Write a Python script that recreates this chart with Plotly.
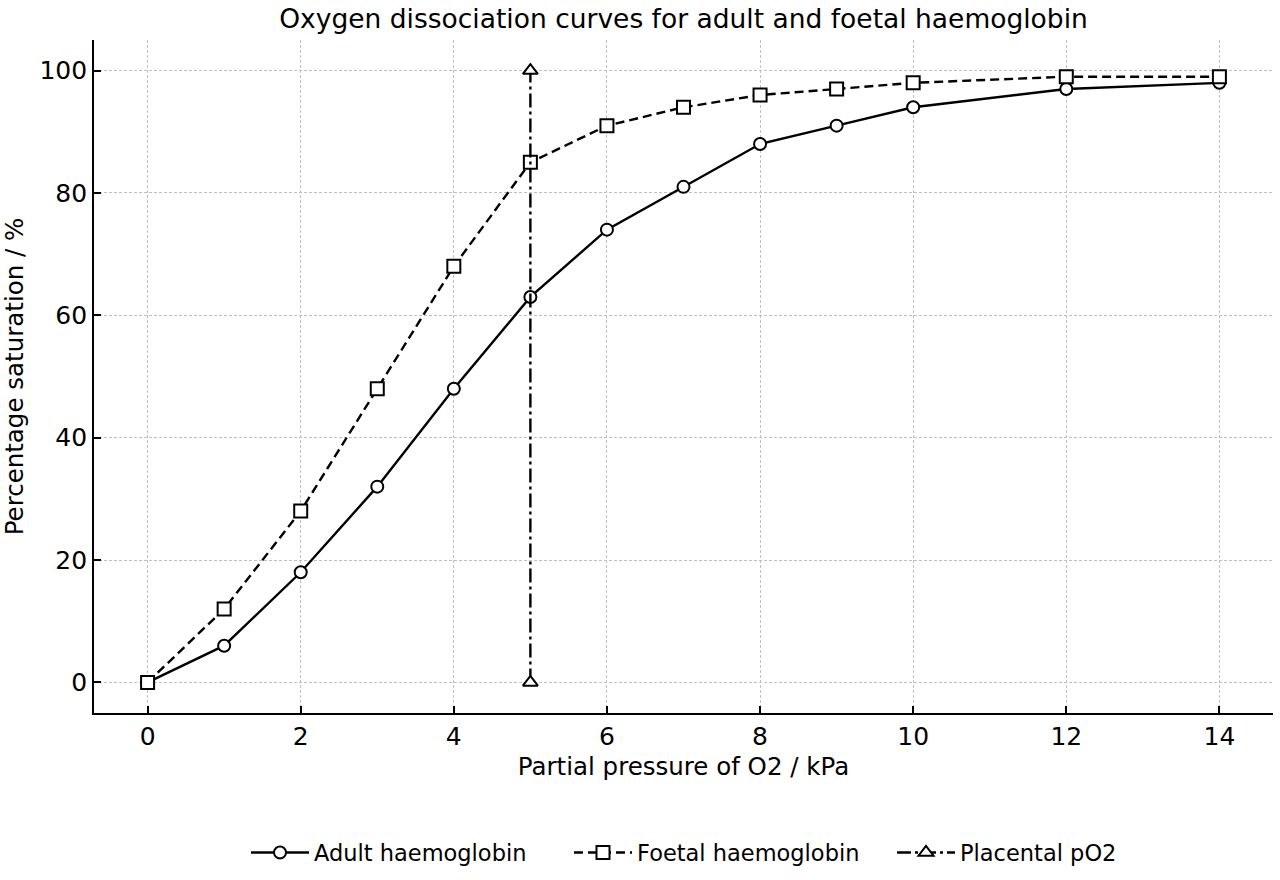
import plotly.graph_objects as go

pressure = [0, 1, 2, 3, 4, 5, 6, 7, 8, 9, 10, 12, 14]
adult = [0, 6, 18, 32, 48, 63, 74, 81, 88, 91, 94, 97, 98]
foetal = [0, 12, 28, 48, 68, 85, 91, 94, 96, 97, 98, 99, 99]
placental_x = [5, 5]
placental_y = [0, 100]

fig = go.Figure()
fig.add_trace(go.Scatter(x=pressure, y=adult, name="Adult haemoglobin", mode="lines+markers",
                         line=dict(color="black", width=2.4, dash="solid"),
                         marker=dict(symbol="circle", size=12, color="white", line=dict(color="black", width=2))))
fig.add_trace(go.Scatter(x=pressure, y=foetal, name="Foetal haemoglobin", mode="lines+markers",
                         line=dict(color="black", width=2.4, dash="9px,5px"),
                         marker=dict(symbol="square", size=13, color="white", line=dict(color="black", width=2))))
fig.add_trace(go.Scatter(x=placental_x, y=placental_y, name="Placental pO2", mode="lines+markers",
                         line=dict(color="black", width=2.4, dash="14px,4px,3px,4px"),
                         marker=dict(symbol="triangle-up", size=13, color="white", line=dict(color="black", width=2))))

axis_common = dict(showline=True, linecolor="black", linewidth=1.7, ticks="inside", ticklen=7,
                   tickwidth=1.7, tickcolor="black", showgrid=True, gridcolor="#c0c0c0",
                   griddash="3px,2px", gridwidth=1, zeroline=False, mirror=False,
                   tickfont=dict(size=25, color="black"))
fig.update_layout(
    width=1280, height=880,
    margin=dict(l=94, r=7, t=40, b=166),
    plot_bgcolor="white", paper_bgcolor="white",
    font=dict(family="DejaVu Sans", color="black"),
    title=dict(text="Oxygen dissociation curves for adult and foetal haemoglobin",
               xref="paper", x=0.5, xanchor="center", y=1 - 19/880, yanchor="middle", font=dict(size=26.5)),
    xaxis=dict(range=[-0.7, 14.7], tickvals=[0, 2, 4, 6, 8, 10, 12, 14],
               title=dict(text="Partial pressure of O2 / kPa", font=dict(size=24.5), standoff=8), **axis_common),
    yaxis=dict(range=[-5, 105], tickvals=[0, 20, 40, 60, 80, 100],
               title=dict(text="Percentage saturation / %", font=dict(size=24.5), standoff=11), **axis_common),
    legend=dict(orientation="h", x=(246 - 94) / 1179, xanchor="left", y=-0.206, yanchor="middle",
                font=dict(size=22.5), itemwidth=58, entrywidth=250, entrywidthmode="pixels",
                bgcolor="rgba(0,0,0,0)"),
)

fig.write_html("out.html")
